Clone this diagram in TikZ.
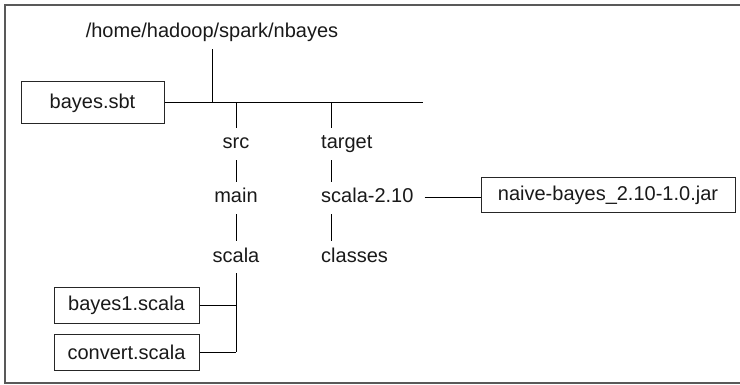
\documentclass[tikz,border=0pt]{standalone}
\usepackage{fontspec}
\setmainfont{Liberation Sans}
\begin{document}
\begin{tikzpicture}[x=1pt,y=-1pt,
  every node/.style={font=\fontsize{20}{24}\selectfont, text=black!90},
  lbl/.style={inner xsep=0pt, inner ysep=7pt, text height=14pt, text depth=4pt},
  filebox/.style={draw=black!85, line width=1pt, inner sep=0pt, minimum height=35pt},
  conn/.style={draw=black, line width=1pt},
  frame/.style={draw=black!65, line width=1.3pt}]
\useasboundingbox (0,0) rectangle (740,385);
\draw[frame] (741,5) -- (5,5) -- (5,383) -- (741,383);

% root
\node[lbl, anchor=base] (root) at (212,38) {/home/hadoop/spark/nbayes};
\node[filebox, minimum width=143pt, minimum height=42pt] (sbt) at (92.5,103) {bayes.sbt};
\coordinate (hend) at (423,103);

% src column
\node[lbl, anchor=base] (src) at (236,149) {src};
\node[lbl, anchor=base] (main) at (236,203) {main};
\node[lbl, anchor=base] (scala) at (236,262) {scala};
\node[filebox, minimum width=145pt] (b1) at (126.5,305.5) {bayes1.scala};
\node[filebox, minimum width=145pt, minimum height=36pt] (conv) at (126.5,352) {convert.scala};

% target column
\coordinate (tcol) at (331,103);
\node[lbl, anchor=base west] (target) at (321,149) {target};
\node[lbl, anchor=base west] (s210) at (321,203) {scala-2.10};
\node[lbl, anchor=base west] (classes) at (321,262) {classes};
\node[filebox, minimum width=254pt] (jar) at (608,195.5) {naive-bayes\_2.10-1.0.jar};

% connectors
\draw[conn] (sbt.east) -- (hend);
\draw[conn] (root.south) -- (root.south |- hend);
\draw[conn] (src.north |- hend) -- (src.north);
\draw[conn] (src.south) -- (main.north);
\draw[conn] (main.south) -- (scala.north);
\draw[conn] (scala.south) -- (scala.south |- conv.east);
\draw[conn] (b1.east) -- (b1.east -| scala.south);
\draw[conn] (conv.east) -- (conv.east -| scala.south);
\draw[conn] (tcol) -- (tcol |- target.north);
\draw[conn] (tcol |- target.south) -- (tcol |- s210.north);
\draw[conn] (tcol |- s210.south) -- (tcol |- classes.north);
\draw[conn, shorten <=11pt] (s210.east) -- (s210.east -| jar.west);
\end{tikzpicture}
\end{document}
